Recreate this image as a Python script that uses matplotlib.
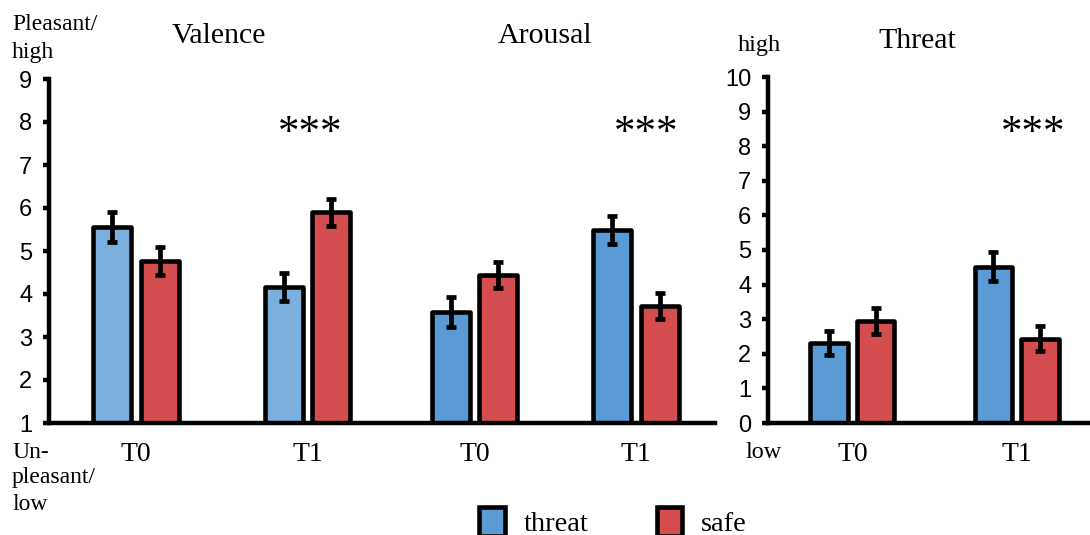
import matplotlib
matplotlib.use("Agg")
import matplotlib.pyplot as plt
from matplotlib.patches import Patch
import numpy as np

# Ratings per time point (T0, T1), threat vs. safe condition
times = ["T0", "T1"]
valence_threat = [5.56, 4.17]
valence_safe = [4.77, 5.90]
valence_threat_err = [0.34, 0.33]
valence_safe_err = [0.33, 0.31]

arousal_threat = [3.58, 5.49]
arousal_safe = [4.45, 3.72]
arousal_threat_err = [0.34, 0.33]
arousal_safe_err = [0.30, 0.31]

threat_threat = [2.31, 4.52]
threat_safe = [2.95, 2.43]
threat_threat_err = [0.35, 0.42]
threat_safe_err = [0.38, 0.36]

BLUE_LIGHT = "#7BAFDE"
BLUE = "#5B9BD5"
RED = "#D44D4F"

SERIF = ["Liberation Serif", "DejaVu Serif"]
SANS = ["Liberation Sans", "DejaVu Sans"]

W, H = 1090, 535
fig = plt.figure(figsize=(W / 100, H / 100), dpi=100)


def px_x(x):
    return x / W


def px_y(y):
    return 1 - y / H


LW = 3.3
bar_w = 0.228
off = 0.142
err_kw = dict(elinewidth=3.4, capsize=3.8, capthick=3.4, ecolor="black")


def style_axis(ax, ymin, ymax):
    for s in ("top", "right"):
        ax.spines[s].set_visible(False)
    ax.spines["left"].set_linewidth(3.2)
    ax.spines["bottom"].set_linewidth(3.2)
    ax.set_ylim(ymin, ymax)
    ax.set_yticks(np.arange(ymin, ymax + 1))
    ax.tick_params(axis="y", direction="out", length=4, width=3.2,
                   labelsize=17, pad=8)
    ax.tick_params(axis="x", length=0, pad=14)
    for lbl in ax.get_yticklabels():
        lbl.set_family(SANS)
    ax.patch.set_alpha(0)


def draw_pair(ax, centers, tvals, svals, terr, serr, tcol):
    centers = np.asarray(centers)
    ax.bar(centers - off, tvals, bar_w, color=tcol, edgecolor="black",
           linewidth=LW, joinstyle="round", zorder=2)
    ax.bar(centers + off, svals, bar_w, color=RED, edgecolor="black",
           linewidth=LW, joinstyle="round", zorder=2)
    ax.errorbar(centers - off, tvals, yerr=terr, fmt="none", zorder=3, **err_kw)
    ax.errorbar(centers + off, svals, yerr=serr, fmt="none", zorder=3, **err_kw)


# Left panel: Valence and Arousal share one 1-9 scale
axL = fig.add_axes([px_x(49), px_y(423), px_x(715 - 49), px_y(79) - px_y(423)])
style_axis(axL, 1, 9)
val_pos = np.array([0.0, 1.03])
aro_pos = np.array([2.03, 3.0])
draw_pair(axL, val_pos, valence_threat, valence_safe,
          valence_threat_err, valence_safe_err, BLUE_LIGHT)
draw_pair(axL, aro_pos, arousal_threat, arousal_safe,
          arousal_threat_err, arousal_safe_err, BLUE)
axL.set_xlim(-0.522, 3.473)
axL.set_xticks(np.concatenate([val_pos, aro_pos]))
axL.set_xticklabels(times + times, family=SERIF, fontsize=20)

# Right panel: Threat on a 0-10 scale
axR = fig.add_axes([px_x(768), px_y(423), px_x(W - 768), px_y(77) - px_y(423)])
style_axis(axR, 0, 10)
thr_pos = np.array([0.0, 1.0])
draw_pair(axR, thr_pos, threat_threat, threat_safe,
          threat_threat_err, threat_safe_err, BLUE)
axR.set_xlim(-0.515, 1.448)
axR.set_xticks(thr_pos)
axR.set_xticklabels(times, family=SERIF, fontsize=20)

# Titles, scale anchors and significance marks
fig.text(px_x(219), px_y(36), "Valence", family=SERIF, fontsize=21.5,
         ha="center", va="center")
fig.text(px_x(545), px_y(36), "Arousal", family=SERIF, fontsize=21.5,
         ha="center", va="center")
fig.text(px_x(917), px_y(41), "Threat", family=SERIF, fontsize=21.5,
         ha="center", va="center")

fig.text(px_x(12), px_y(25), "Pleasant/", family=SERIF, fontsize=17,
         ha="left", va="center")
fig.text(px_x(12), px_y(52), "high", family=SERIF, fontsize=17,
         ha="left", va="center")
for y, s in ((452, "Un-"), (478, "pleasant/"), (505, "low")):
    fig.text(px_x(12), px_y(y), s, family=SERIF, fontsize=17,
             ha="left", va="center")
fig.text(px_x(738), px_y(45), "high", family=SERIF, fontsize=17.5,
         ha="left", va="center")
fig.text(px_x(746), px_y(452), "low", family=SERIF, fontsize=17.5,
         ha="left", va="center")

for x in (310, 646, 1033):
    fig.text(px_x(x), px_y(134), "***", family=SERIF, fontsize=31,
             ha="center", va="center")

handles = [Patch(facecolor=BLUE, edgecolor="black", linewidth=LW, label="threat"),
           Patch(facecolor=RED, edgecolor="black", linewidth=LW, label="safe")]
fig.legend(handles=handles, loc="center", bbox_to_anchor=(px_x(613), px_y(522)),
           ncol=2, frameon=False, prop={"family": SERIF, "size": 20.5},
           handlelength=0.9, handleheight=1.2, handletextpad=0.65,
           columnspacing=2.4, borderpad=0)

fig.savefig("out.png", dpi=100)
